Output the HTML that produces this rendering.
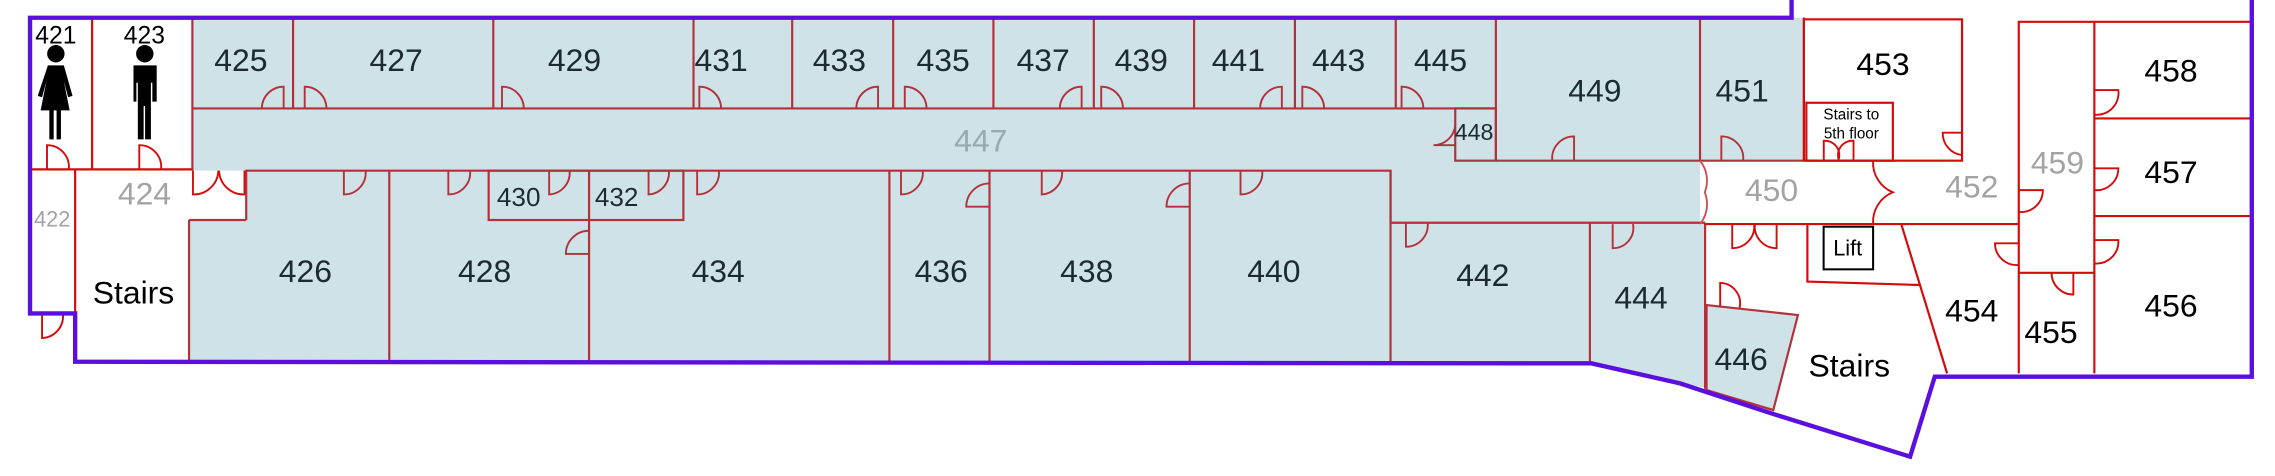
<!DOCTYPE html>
<html><head><meta charset="utf-8"><style>
html,body{margin:0;padding:0;background:#fff;}
svg{display:block;}
text{font-family:"Liberation Sans",Arial,sans-serif;text-anchor:middle;}
.l{font-size:22px;fill:#1d2b30;}
.k{font-size:22px;fill:#000;}
.g{font-size:22px;fill:#a3a3a3;}
.w{fill:none;stroke:#b3313b;stroke-width:1.5;}
.r{fill:none;stroke:#d60a0a;stroke-width:1.5;}
.d{fill:none;stroke:#b3313b;stroke-width:1.3;}
.dr{fill:none;stroke:#d60a0a;stroke-width:1.3;}
</style></head><body>
<svg width="2275" height="476" viewBox="0 0 1568 328" xmlns="http://www.w3.org/2000/svg">
<rect width="1568" height="328" fill="#fff"/>
<!-- blue fills -->
<polygon fill="#cfe2e7" points="132.6,12.2 1243.3,12.2 1243.3,110.7 1171.7,110.7 1171.7,154.4 1175.2,154.4 1175.2,267 1158,264.2 1096.8,250.4 130.3,249.3 130.3,151.6 169.7,151.6 169.7,117.6 132.6,117.6"/>
<polygon fill="#cfe2e7" points="1176.2,210.2 1239.2,217.1 1222.2,282.6 1176.2,268.8"/>

<!-- dark red walls (blue area) -->
<g class="w">
<line x1="132.6" y1="12" x2="132.6" y2="117.6"/>
<line x1="132.6" y1="74.7" x2="1031" y2="74.7"/>
<line x1="202" y1="12" x2="202" y2="74.7"/>
<line x1="340" y1="12" x2="340" y2="74.7"/>
<line x1="478" y1="12" x2="478" y2="74.7"/>
<line x1="546" y1="12" x2="546" y2="74.7"/>
<line x1="615.6" y1="12" x2="615.6" y2="74.7"/>
<line x1="684.7" y1="12" x2="684.7" y2="74.7"/>
<line x1="753.9" y1="12" x2="753.9" y2="74.7"/>
<line x1="823" y1="12" x2="823" y2="74.7"/>
<line x1="892.5" y1="12" x2="892.5" y2="74.7"/>
<line x1="962" y1="12" x2="962" y2="74.7"/>
<line x1="1031" y1="12" x2="1031" y2="110.7"/>
<line x1="1031" y1="110.7" x2="1243.3" y2="110.7"/>
<line x1="1171.7" y1="12" x2="1171.7" y2="110.7"/>
<line x1="1243.3" y1="12" x2="1243.3" y2="110.7"/>
<rect x="1003" y="74.7" width="28" height="36"/>
<polyline points="169.7,151.6 169.7,117.6 958.4,117.6 958.4,153.5 1175.2,153.5"/>
<line x1="130.3" y1="151.6" x2="169.7" y2="151.6"/>
<line x1="130.3" y1="151.6" x2="130.3" y2="249"/>
<line x1="268.3" y1="117.6" x2="268.3" y2="249"/>
<line x1="406" y1="117.6" x2="406" y2="249"/>
<rect x="336.8" y="117.6" width="134.2" height="34"/>
<line x1="613" y1="117.6" x2="613" y2="249"/>
<line x1="682" y1="117.6" x2="682" y2="249"/>
<line x1="820" y1="117.6" x2="820" y2="249"/>
<line x1="958.4" y1="117.6" x2="958.4" y2="249"/>
<line x1="1095.8" y1="153.5" x2="1095.8" y2="250"/>
<line x1="1175.2" y1="153.5" x2="1175.2" y2="268"/>
<polygon points="1176.2,210.2 1239.2,217.1 1222.2,282.6 1176.2,268.8"/>
</g>

<!-- bright red walls (white area) -->
<g class="r">
<line x1="63.5" y1="12" x2="63.5" y2="116.7"/>
<line x1="20.7" y1="116.7" x2="132.6" y2="116.7"/>
<line x1="51.8" y1="117" x2="51.8" y2="216"/>
<rect x="1243.3" y="13.3" width="109" height="97.4"/>
<rect x="1245" y="70.8" width="59.6" height="39.9"/>
<line x1="1175" y1="154.4" x2="1391.4" y2="154.4"/>
<polyline points="1391.4,154.4 1391.4,15 1552,15"/>
<line x1="1443.5" y1="15" x2="1443.5" y2="257.3"/>
<line x1="1443.5" y1="81.6" x2="1552" y2="81.6"/>
<line x1="1443.5" y1="148.9" x2="1552" y2="148.9"/>
<line x1="1391.4" y1="154.4" x2="1391.4" y2="257.3"/>
<line x1="1391.4" y1="188" x2="1443.5" y2="188"/>
<line x1="1310.4" y1="154.4" x2="1342" y2="257.3"/>
<polyline points="1245.7,154.4 1245.7,194 1323.3,196.4"/>
</g>
<rect x="1256.9" y="156.2" width="34.1" height="29.4" fill="none" stroke="#000" stroke-width="1.4"/>

<!-- doors dark -->
<g class="d">
<path d="M195.5 74.7V59.7A15 15 0 0 0 180.5 74.7"/>
<path d="M210 74.7V59.7A15 15 0 0 1 225 74.7"/>
<path d="M346 74.7V59.7A15 15 0 0 1 361 74.7"/>
<path d="M482 74.7V59.7A15 15 0 0 1 497 74.7"/>
<path d="M605.2 74.7V59.7A15 15 0 0 0 590.2 74.7"/>
<path d="M623.6 74.7V59.7A15 15 0 0 1 638.6 74.7"/>
<path d="M745.5 74.7V59.7A15 15 0 0 0 730.5 74.7"/>
<path d="M759 74.7V59.7A15 15 0 0 1 774 74.7"/>
<path d="M883.5 74.7V59.7A15 15 0 0 0 868.5 74.7"/>
<path d="M897.6 74.7V59.7A15 15 0 0 1 912.6 74.7"/>
<path d="M966 74.7V59.7A15 15 0 0 1 981 74.7"/>
<path d="M1084.9 110.7V94A15 15 0 0 0 1069.9 110.7"/>
<path d="M1186.4 110.7V94A15 15 0 0 1 1201.4 110.7"/>
<path d="M1003 100H988A15 15 0 0 0 1003 85"/>
<path d="M237 117.6V134A15 15 0 0 0 252 117.6"/>
<path d="M309 117.6V134A15 15 0 0 0 324 117.6"/>
<path d="M378.5 117.6V134A15 15 0 0 0 392.6 117.6"/>
<path d="M447 117.6V134A15 15 0 0 0 461 117.6"/>
<path d="M480.5 117.6V134A15 15 0 0 0 495.5 117.6"/>
<path d="M621 117.6V134A15 15 0 0 0 636 117.6"/>
<path d="M718 117.6V134A15 15 0 0 0 732 117.6"/>
<path d="M855 117.6V134A15 15 0 0 0 870 117.6"/>
<path d="M969 153.5V170A15 15 0 0 0 984 153.5"/>
<path d="M1111.5 154.4V171A14 14 0 0 0 1125.5 154.4"/>
<path d="M682 142.4H666A16 16 0 0 1 682 126.4"/>
<path d="M820 142.4H804A16 16 0 0 1 820 126.4"/>
<path d="M406 175H390A16 16 0 0 1 406 159"/>
</g>
<!-- doors bright -->
<g class="dr">
<path d="M32.4 116.7V100A15 15 0 0 1 47.4 116.7"/>
<path d="M96 116.7V100A15 15 0 0 1 111 116.7"/>
<path d="M29 217V233A15 15 0 0 0 43.4 217"/>
<path d="M133 117.6V134A17 17 0 0 0 150.5 117.6"/>
<path d="M168.5 117.6V134A17 17 0 0 1 151 117.6"/>
<path d="M1257 110.7V97A10 10 0 0 1 1267 110.7"/>
<path d="M1277.5 110.7V97A10 10 0 0 0 1267.5 110.7"/>
<path d="M1171.7 110.7A22 22 0 0 1 1175 132.5A22 22 0 0 1 1171.7 154.4" stroke="#c8505a"/>
<path d="M1291 110.7A22 22 0 0 0 1304.6 132.5A22 22 0 0 0 1291 154.4"/>
<path d="M1193.9 154.4V171A15 15 0 0 0 1209 154.4"/>
<path d="M1224.5 154.4V171A15 15 0 0 1 1209.5 154.4"/>
<path d="M1352.3 91.4H1339A15 15 0 0 0 1352.3 106.8"/>
<path d="M1391.4 131H1408A15 15 0 0 1 1391.4 146"/>
<path d="M1443.5 62H1460A15 15 0 0 1 1443.5 79"/>
<path d="M1443.5 116H1460A15 15 0 0 1 1443.5 131"/>
<path d="M1443.5 165.4H1460A15 15 0 0 1 1443.5 181.5"/>
<path d="M1391.4 167.7H1375A15 15 0 0 0 1391.4 182.6"/>
<path d="M1429 188V203A15 15 0 0 1 1414 188"/>
<path d="M1185.6 211V195A14 14 0 0 1 1199 212"/>
</g>

<!-- purple outline -->
<g fill="none" stroke="#5a0fe0" stroke-width="3" stroke-linejoin="miter">
<polyline points="1234.8,0 1234.8,12.2 20.7,12.2 20.7,216 51.8,216 51.8,249.3 1096.8,250.4 1158,264.2 1221,284.9 1316.5,314.7 1333.5,259.6 1552,259.6 1552,0"/>
</g>

<!-- toilet icons -->
<g fill="#000">
<circle cx="38.5" cy="37" r="6"/>
<path d="M33 45H44L50 66L47 67L44 56L48 76H42V96H39V76H37V96H34V76H28L32 56L29 67L26 66Z"/>
<circle cx="99.8" cy="37" r="6"/>
<path d="M92 45H108V70H105V57H104V96H100V73H99V96H95V57H94V70H92Z"/>
</g>

<!-- labels -->
<text x="38.5" y="30" style="font-size:17px" fill="#000">421</text>
<text x="99.5" y="30" style="font-size:17px" fill="#000">423</text>
<text x="36" y="156" style="font-size:15px" fill="#a3a3a3">422</text>
<text class="g" x="99.6" y="141">424</text>
<text class="k" x="92" y="209">Stairs</text>
<text class="l" x="166" y="49">425</text>
<text class="l" x="273" y="49">427</text>
<text class="l" x="396" y="49">429</text>
<text class="l" x="497" y="49">431</text>
<text class="l" x="578.5" y="49">433</text>
<text class="l" x="650" y="49">435</text>
<text class="l" x="719" y="49">437</text>
<text class="l" x="786.6" y="49">439</text>
<text class="l" x="853.5" y="49">441</text>
<text class="l" x="922.6" y="49">443</text>
<text class="l" x="992.8" y="49">445</text>
<text x="676" y="104.5" style="font-size:22px" fill="#99a9ae">447</text>
<text class="l" x="1016" y="96.5" style="font-size:16px">448</text>
<text class="l" x="357.5" y="142" style="font-size:18px">430</text>
<text class="l" x="425" y="142" style="font-size:18px">432</text>
<text class="l" x="210.5" y="194.5">426</text>
<text class="l" x="334" y="194.5">428</text>
<text class="l" x="495" y="194.5">434</text>
<text class="l" x="648.7" y="194.5">436</text>
<text class="l" x="749" y="194.5">438</text>
<text class="l" x="878" y="194.5">440</text>
<text class="l" x="1022" y="197">442</text>
<text class="l" x="1131" y="212.5">444</text>
<text class="l" x="1200" y="255">446</text>
<text class="l" x="1099.2" y="70">449</text>
<text class="l" x="1200.7" y="70">451</text>
<text class="k" x="1297.8" y="51.5">453</text>
<text x="1276" y="82.5" style="font-size:10.5px" fill="#000">Stairs to</text>
<text x="1276" y="95.5" style="font-size:10.5px" fill="#000">5th floor</text>
<text class="g" x="1221" y="138.5">450</text>
<text class="g" x="1359" y="136">452</text>
<text class="g" x="1418" y="119.5">459</text>
<text class="k" x="1496.3" y="56">458</text>
<text class="k" x="1496.3" y="126">457</text>
<text class="k" x="1496.3" y="218">456</text>
<text class="k" x="1359" y="221.5">454</text>
<text class="k" x="1413.6" y="236.5">455</text>
<text x="1273.5" y="176" style="font-size:15px" fill="#000">Lift</text>
<text class="k" x="1274.6" y="259.5">Stairs</text>
</svg>
</body></html>
